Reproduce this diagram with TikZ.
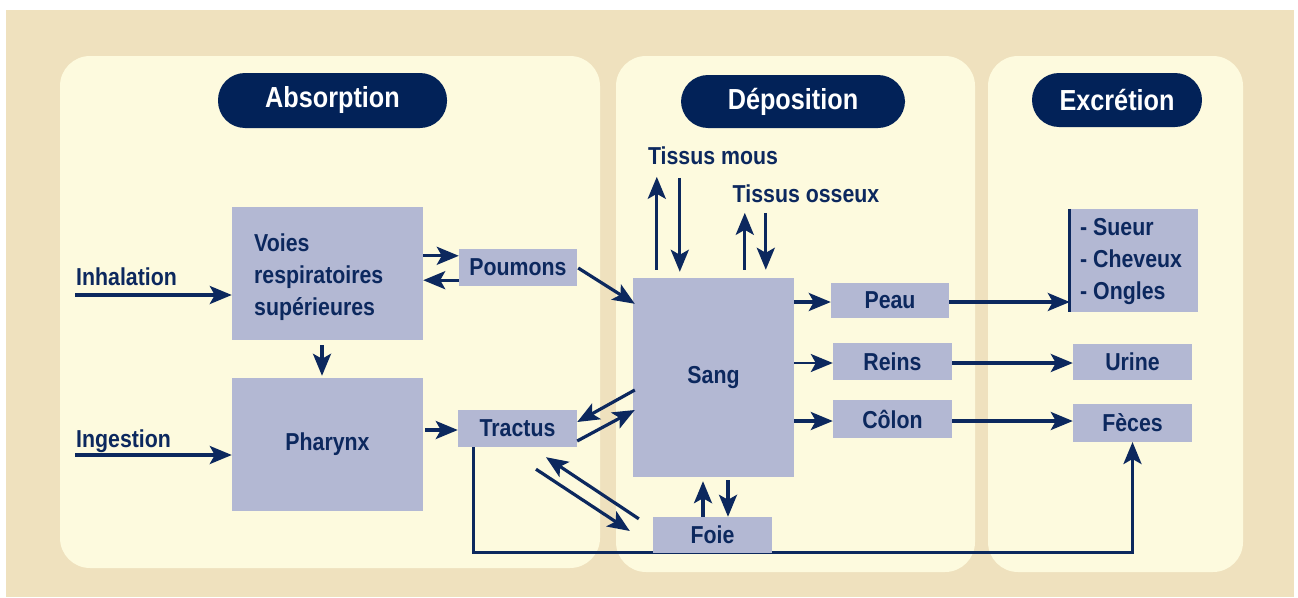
\documentclass[tikz,border=0pt]{standalone}
\usepackage{fontspec}
\setmainfont{Liberation Sans}[FakeStretch=0.87]
\usetikzlibrary{arrows.meta,calc}
\definecolor{bgbeige}{RGB}{239,225,190}
\definecolor{panelc}{RGB}{253,250,222}
\definecolor{pillc}{RGB}{2,34,88}
\definecolor{boxc}{RGB}{179,184,211}
\definecolor{navy}{RGB}{12,40,94}
\tikzset{
  box/.style={fill=boxc, draw=none, text=navy, inner sep=0pt, align=center,
    font=\fontsize{24.5}{32}\selectfont\bfseries},
  lbl/.style={text=navy, inner sep=0pt, font=\fontsize{24.5}{32}\selectfont\bfseries},
  pill/.style={fill=pillc, text=white, rounded corners=27pt, inner sep=0pt,
    font=\fontsize{29}{32}\selectfont\bfseries},
  panel/.style={fill=panelc, rounded corners=30pt},
  arr/.style={draw=navy, line width=3.2pt, -{Stealth[length=22pt,width=18pt,inset=5pt]}},
  conn/.style={draw=navy, line width=3.2pt}
}
\begin{document}
\begin{tikzpicture}[x=1pt,y=-1pt]
\useasboundingbox (0,0) rectangle (1298,597);
\fill[white] (0,0) rectangle (1298,597);
\fill[bgbeige] (6,10) rectangle (1294,597);
% panels
\fill[panel] (60,56) rectangle (600,568);
\fill[panel] (616,56) rectangle (975,572);
\fill[panel] (988,56) rectangle (1243,572);
% headers
\node[pill, minimum width=229pt, minimum height=55pt] (habs) at (332.5,100.5) {Absorption};
\node[pill, minimum width=224pt, minimum height=53pt] (hdep) at (793,101.5) {Déposition};
\node[pill, minimum width=170pt, minimum height=54pt] (hexc) at (1117,100) {Excrétion};
% labels
\node[lbl, anchor=base west] (inh) at (76,285) {Inhalation};
\node[lbl, anchor=base west] (ing) at (76,447) {Ingestion};
\node[lbl] (tmous) at (713,156) {Tissus mous};
\node[lbl] (tos) at (806,194) {Tissus osseux};
% boxes
\node[box, minimum width=191pt, minimum height=133pt] (voies) at (327.5,273.5) {};
\node[lbl, align=left, anchor=base west] (voiestxt) at (254,315) {Voies\\respiratoires\\supérieures};
\node[box, minimum width=191pt, minimum height=133pt] (phar) at (327.5,444.5) {Pharynx};
\node[box, minimum width=118pt, minimum height=37pt] (poumons) at (518,267.5) {Poumons};
\node[box, minimum width=119pt, minimum height=37pt] (tractus) at (517.5,428.5) {Tractus};
% tractus -> feces line (under Foie)
\draw[arr] ($(tractus.south west)+(16,0)$) -- ++(0,105) -| (1132.5,442) coordinate (fecin);
\node[box, minimum width=161pt, minimum height=199pt] (sang) at (713.5,377.5) {Sang};
\node[box, minimum width=119pt, minimum height=36pt] (foie) at (712.5,535) {Foie};
\node[box, minimum width=118pt, minimum height=35pt] (peau) at (890,300.5) {Peau};
\node[box, minimum width=119pt, minimum height=37pt] (reins) at (892.5,361.5) {Reins};
\node[box, minimum width=119pt, minimum height=38pt] (colon) at (892.5,419) {Côlon};
\node[box, minimum width=128pt, minimum height=103pt] (list) at (1134,260.5) {};
\node[lbl, align=left, anchor=base west] (listtxt) at (1080,299) {- Sueur\\- Cheveux\\- Ongles};
\node[box, minimum width=119pt, minimum height=36pt] (urine) at (1132.5,362) {Urine};
\node[box, minimum width=119pt, minimum height=38pt] (feces) at (1132.5,423) {Fèces};
\draw[conn] (list.north west) -- (list.south west);
% absorption arrows
\coordinate (inA) at (75,295);
\draw[arr] (inA) -- (inA -| voies.west);
\coordinate (ingA) at (75,455);
\draw[arr] (ingA) -- (ingA -| phar.west);
\draw[arr] ([xshift=-5.5pt,yshift=-5pt]voies.south) -- ([xshift=-5.5pt,yshift=2pt]phar.north);
\coordinate (vp1) at ($(voies.north east)+(0,49)$);
\draw[arr] (vp1) -- (vp1 -| poumons.west);
\coordinate (vp2) at ($(poumons.south west)+(0,-6)$);
\draw[arr] (vp2) -- (vp2 -| voies.east);
\coordinate (pt1) at ($(phar.east)+(2,-14.5)$);
\draw[arr] (pt1) -- (pt1 -| tractus.west);
\draw[arr] ($(poumons.east)+(1,0.5)$) -- ($(sang.north west)+(2,26)$);
% sang <-> tractus
\draw[arr] ($(sang.west)+(2,12.5)$) -- ($(tractus.east)+(0,-6.5)$);
\draw[arr] ($(tractus.east)+(0,12.5)$) -- ($(sang.west)+(2,32.5)$);
% tractus <-> foie
\draw[arr] ($(foie.north west)+(-14,2)$) -- ($(tractus.south)+(28.5,10)$);
\draw[arr] ($(tractus.south)+(18.5,22)$) -- ($(foie.west)+(-23,-4)$);
% sang <-> foie
\draw[arr] ($(foie.north)+(-9.5,0)$) -- ($(sang.south)+(-10.5,4)$);
\draw[arr] ($(sang.south)+(14.5,3)$) -- ($(foie.north)+(15.5,0)$);
% sang <-> tissus
\draw[arr] ($(sang.north west)+(24,-8)$) -- ($(sang.north west)+(24,-101)$);
\draw[arr] ($(sang.north west)+(47,-100)$) -- ($(sang.north west)+(47,-6)$);
\draw[arr] ($(sang.north west)+(112,-8)$) -- ($(sang.north west)+(112,-65)$);
\draw[arr] ($(sang.north west)+(133,-65)$) -- ($(sang.north west)+(133,-8)$);
% sang -> organs
\coordinate (sp) at ($(peau.west)+(0,1.5)$);
\draw[arr] (sp -| sang.east) -- (sp);
\coordinate (sr) at ($(reins.west)+(0,1.5)$);
\draw[arr, line width=2.5pt] (sr -| sang.east) -- (sr);
\coordinate (sc) at ($(colon.west)+(0,2)$);
\draw[arr] (sc -| sang.east) -- (sc);
% organs -> excretion
\coordinate (pl) at ($(peau.east)+(0,1.5)$);
\draw[arr] (pl) -- (pl -| list.west);
\coordinate (ru) at ($(reins.east)+(0,1.5)$);
\draw[arr] (ru) -- (ru -| urine.west);
\coordinate (cf) at ($(colon.east)+(0,2)$);
\draw[arr] (cf) -- (cf -| feces.west);
\end{tikzpicture}
\end{document}
